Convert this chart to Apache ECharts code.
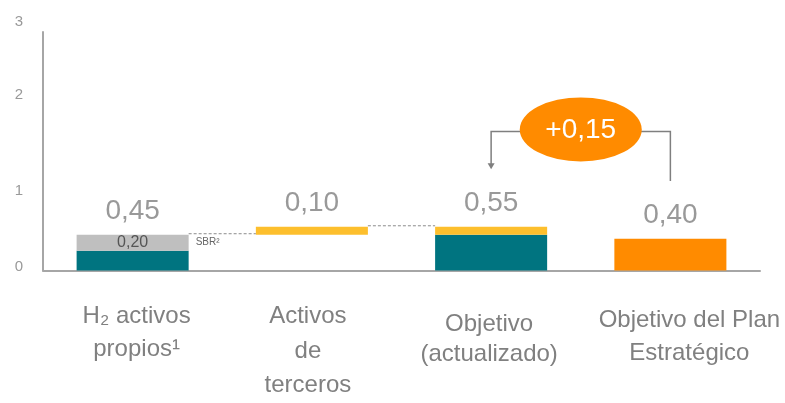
<!DOCTYPE html>
<html>
<head>
<meta charset="utf-8">
<script src="https://cdn.jsdelivr.net/npm/echarts@6/dist/echarts.min.js"></script>
<style>
html,body{margin:0;padding:0;background:#fff;}
#chart{width:785px;height:403px;}
</style>
</head>
<body>
<div id="chart"></div>
<script>
// ---- data ----
var categories = ['H₂ activos\npropios¹', 'Activos\nde\nterceros', 'Objetivo\n(actualizado)', 'Objetivo del Plan\nEstratégico'];
var yTicks = [0, 1, 2, 3];
var baseValues = [0, 0.45, 0, 0];            // invisible offset for floating bar
var tealValues = [0.25, null, 0.45, null];
var grayValues = [0.20, null, null, null];
var yellowValues = [null, 0.10, 0.10, null];
var orangeValues = [null, null, null, 0.40];
var totalValues = [0.45, 0.55, 0.55, 0.40];
var totalLabels = ['0,45', '0,10', '0,55', '0,40'];
var grayLabel = '0,20';
var sbrLabel = 'SBR²';
var connectors = [[0, 1, 0.45], [1, 2, 0.55]];   // [fromCat, toCat, value]
var deltaText = '+0,15';
var deltaCallout = [[2, 3, 1.775, 1.275, 1.125]]; // [leftCat, rightCat, bubbleY, leftEndY, rightEndY]

var FONT = '"Liberation Sans", Arial, sans-serif';
var TEAL = '#007480', GRAY = '#bfbfbf', YELLOW = '#fdbf2d', ORANGE = '#ff8b00';
var BARW = 0.625;

var chart = echarts.init(document.getElementById('chart'));

var catData = categories.map(function (c, i) {
  var ts = [
    { lineHeight: 33, padding: [0, 0, 0, 8] },
    { lineHeight: 34.5, padding: [0, 0, 0, -8] },
    { lineHeight: 30, padding: [10, 0, 0, -4] },
    { lineHeight: 33, padding: [4, 0, 0, 38] }
  ][i];
  return { value: c, textStyle: ts };
});

var yShift = { 0: 4, 1: 0, 2: 17, 3: 10 };

chart.setOption({
  animation: false,
  grid: { left: 43, right: 25, top: 32, bottom: 131 },
  xAxis: {
    type: 'category',
    data: catData,
    axisLine: { show: true, lineStyle: { color: '#a6a6a6', width: 2 } },
    axisTick: { show: false },
    axisLabel: {
      interval: 0, margin: 29, color: '#808080', fontSize: 24, fontFamily: FONT
    }
  },
  yAxis: {
    type: 'value', min: 0, max: 3, interval: 1,
    axisLine: { show: true, lineStyle: { color: '#a6a6a6', width: 2 } },
    axisTick: { show: false },
    splitLine: { show: false },
    axisLabel: {
      margin: 24, align: 'center', color: '#999', fontSize: 15, fontFamily: FONT,
      formatter: function (v) { return '{s' + v + '|' + v + '}'; },
      rich: (function () {
        var r = {};
        yTicks.forEach(function (t) {
          r['s' + t] = { padding: [0, 0, 2 * yShift[t], 0], fontSize: 15, color: '#999', fontFamily: FONT };
        });
        return r;
      })()
    }
  },
  series: [
    { type: 'bar', stack: 't', barWidth: (BARW * 100) + '%', data: baseValues,
      itemStyle: { color: 'transparent' }, silent: true },
    { type: 'bar', stack: 't', data: tealValues.map(function (v, i) {
        if (i === 0) return { value: v, label: { show: true, formatter: sbrLabel, position: ['100%', -8],
          offset: [7, 0], align: 'left', verticalAlign: 'middle', fontSize: 10, color: '#666', fontFamily: FONT } };
        return v;
      }),
      itemStyle: { color: TEAL } },
    { type: 'bar', stack: 't', data: grayValues, itemStyle: { color: GRAY },
      label: { show: true, position: 'inside', formatter: grayLabel, fontSize: 16, color: '#555', fontFamily: FONT } },
    { type: 'bar', stack: 't', data: yellowValues, itemStyle: { color: YELLOW } },
    { type: 'bar', stack: 't', data: orangeValues, itemStyle: { color: ORANGE } },
    { type: 'scatter', data: totalValues, symbolSize: 1, itemStyle: { color: 'transparent' }, silent: true,
      label: { show: true, position: 'top', distance: 9, fontSize: 28, color: '#808080', fontFamily: FONT,
        formatter: function (p) { return totalLabels[p.dataIndex]; } } },
    { type: 'custom', data: connectors, silent: true, z: 5,
      encode: { x: 0, y: 2 },
      renderItem: function (params, api) {
        var a = api.coord([api.value(0), api.value(2)]);
        var b = api.coord([api.value(1), api.value(2)]);
        var half = api.size([1, 0])[0] * BARW / 2;
        return { type: 'line', shape: { x1: a[0] + half, y1: a[1] - 1, x2: b[0] - half, y2: b[1] - 1 },
          style: { stroke: '#8c8c8c', lineWidth: 1, lineDash: [3, 2] } };
      } },
    { type: 'custom', data: deltaCallout, silent: true, z: 6,
      encode: { x: 0, y: 2 },
      renderItem: function (params, api) {
        var l = api.coord([api.value(0), api.value(2)]);
        var r = api.coord([api.value(1), api.value(2)]);
        var le = api.coord([api.value(0), api.value(3)]);
        var re = api.coord([api.value(1), api.value(4)]);
        var cx = (l[0] + r[0]) / 2, cy = l[1];
        var rx = 61, ry = 32;
        var lc = '#7f7f7f';
        return { type: 'group', children: [
          { type: 'polyline', shape: { points: [[cx - rx + 2, cy + 2], [l[0], cy + 2], [le[0], le[1] - 5]] },
            style: { stroke: lc, lineWidth: 1.5, fill: null } },
          { type: 'polygon', shape: { points: [[le[0] - 3.5, le[1] - 6], [le[0] + 3.5, le[1] - 6], [le[0], le[1]]] },
            style: { fill: lc } },
          { type: 'polyline', shape: { points: [[cx + rx - 2, cy + 2], [r[0], cy + 2], [re[0], re[1]]] },
            style: { stroke: lc, lineWidth: 1.5, fill: null } },
          { type: 'circle', x: cx, y: cy, scaleY: ry / rx, shape: { cx: 0, cy: 0, r: rx },
            style: { fill: ORANGE } },
          { type: 'text', style: { text: deltaText, x: cx, y: cy + 1, align: 'center', verticalAlign: 'middle',
            fill: '#ffffff', fontSize: 28, fontFamily: FONT } }
        ] };
      } }
  ]
});
</script>
</body>
</html>
